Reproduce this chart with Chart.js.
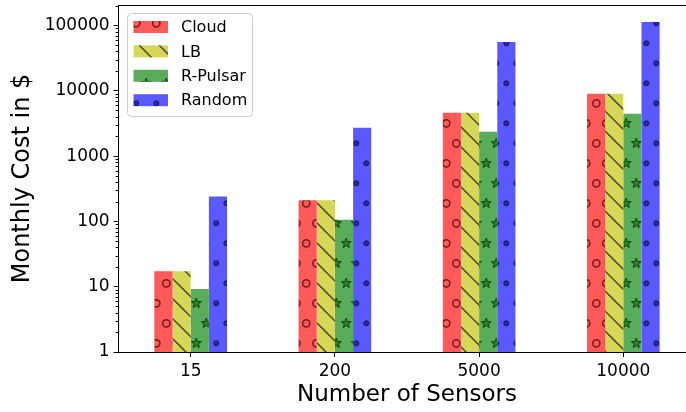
<!DOCTYPE html>
<html>
<head>
<meta charset="utf-8">
<script src="https://cdn.jsdelivr.net/npm/chart.js@4.4.0/dist/chart.umd.min.js"></script>
<style>
  html, body { margin: 0; padding: 0; overflow: hidden; background: #fff; }
</style>
</head>
<body>
<canvas id="bar-chart" width="700" height="412"></canvas>
<script>
var categories = ["15", "200", "5000", "10000"]; // number of sensors
var seriesNames = ["Cloud", "LB", "R-Pulsar", "Random"];
var cloudCost = [17.3, 210, 4600, 9000];
var lbCost = [17.3, 210, 4600, 9000];
var pulsarCost = [9.2, 106, 2370, 4450];
var randomCost = [240, 2720, 56000, 113000];
var yTicks = [1, 10, 100, 1000, 10000, 100000];

var font = "DejaVu Sans";

// hatch tiles, anchored on the canvas like matplotlib anchors on the figure
function makePattern(bg, drawMark) {
    var c = document.createElement("canvas");
    c.width = 20;
    c.height = 40;
    var g = c.getContext("2d");
    g.fillStyle = bg;
    g.fillRect(0, 0, 20, 40);
    var spots = [[6.3, 3.3], [16.3, 23.3]];
    spots.forEach(function (s) {
        for (var dx = -20; dx <= 20; dx += 20) {
            for (var dy = -40; dy <= 40; dy += 40) {
                drawMark(g, s[0] + dx, s[1] + dy);
            }
        }
    });
    return g.createPattern(c, "repeat");
}

function ring(g, x, y) {
    g.beginPath();
    g.arc(x, y, 3.6, 0, Math.PI * 2);
    g.strokeStyle = "rgba(100,20,20,0.9)";
    g.lineWidth = 1.5;
    g.stroke();
}

function star(g, x, y) {
    g.beginPath();
    for (var i = 0; i < 10; i++) {
        var r = i % 2 === 0 ? 5.2 : 2.2;
        var a = -Math.PI / 2 + i * Math.PI / 5;
        g.lineTo(x + r * Math.cos(a), y + r * Math.sin(a));
    }
    g.closePath();
    g.fillStyle = "#1f8a1f";
    g.fill();
    g.strokeStyle = "rgba(20,50,20,0.9)";
    g.lineWidth = 1;
    g.stroke();
}

function dot(g, x, y) {
    g.beginPath();
    g.arc(x, y, 2.5, 0, Math.PI * 2);
    g.fillStyle = "#2a2aa8";
    g.fill();
    g.strokeStyle = "#151560";
    g.lineWidth = 1;
    g.stroke();
}

function lines(g, x, y) {
    // only once per tile (called 18 times, draw on the centre call)
    if (x !== 6.3 || y !== 3.3) return;
    g.strokeStyle = "rgba(40,40,10,0.85)";
    g.lineWidth = 1.3;
    for (var k = -4; k <= 2; k++) {
        var x0 = 14 + 20 * k;
        g.beginPath();
        g.moveTo(x0 - 2, -2);
        g.lineTo(x0 + 42, 42);
        g.stroke();
    }
}

var fills = [
    makePattern("rgb(255,89,89)", ring),
    makePattern("rgb(214,214,89)", lines),
    makePattern("rgb(89,172,89)", star),
    makePattern("rgb(89,89,255)", dot)
];

var minorTicks = {
    id: "minorTicks",
    afterDraw: function (chart) {
        var ctx = chart.ctx, y = chart.scales.y, a = chart.chartArea;
        ctx.save();
        ctx.strokeStyle = "#000";
        ctx.lineWidth = 1;
        for (var k = 0; k < 6; k++) {
            for (var m = 2; m <= 9; m++) {
                var v = m * Math.pow(10, k);
                if (v > y.max) continue;
                var py = Math.round(y.getPixelForValue(v)) + 0.5;
                ctx.beginPath();
                ctx.moveTo(a.left - 3, py);
                ctx.lineTo(a.left, py);
                ctx.stroke();
            }
        }
        // top and right spines
        ctx.beginPath();
        ctx.moveTo(a.left, a.top + 0.5);
        ctx.lineTo(a.right, a.top + 0.5);
        ctx.moveTo(a.right - 0.5, a.top);
        ctx.lineTo(a.right - 0.5, a.bottom);
        ctx.stroke();
        ctx.restore();
    }
};

var boxLegend = {
    id: "boxLegend",
    afterDraw: function (chart) {
        var ctx = chart.ctx;
        var bx = 127, by = 13, bw = 125, bh = 103;
        ctx.save();
        ctx.beginPath();
        ctx.roundRect(bx + 0.5, by + 0.5, bw, bh, 4);
        ctx.fillStyle = "rgba(255,255,255,0.8)";
        ctx.fill();
        ctx.strokeStyle = "#cccccc";
        ctx.lineWidth = 1;
        ctx.stroke();
        ctx.font = "16px '" + font + "'";
        ctx.textBaseline = "middle";
        chart.data.datasets.forEach(function (ds, i) {
            var cy = 27 + i * 24.4;
            ctx.fillStyle = ds.backgroundColor;
            ctx.fillRect(133.5, cy - 6, 34.5, 12);
            ctx.fillStyle = "#000";
            ctx.fillText(ds.label, 181, cy + 1);
        });
        ctx.restore();
    }
};

var seriesValues = [cloudCost, lbCost, pulsarCost, randomCost];

function noEdgePadding(scale) {
    scale.paddingTop = 0;
    scale.paddingBottom = 0;
    scale.paddingLeft = 0;
    scale.paddingRight = 0;
}

var config = {
    type: "bar",
    data: {
        labels: categories,
        datasets: seriesNames.map(function (name, i) {
            return {
                label: name,
                data: seriesValues[i],
                backgroundColor: fills[i],
                borderWidth: 0,
                categoryPercentage: 0.504,
                barPercentage: 1.0
            };
        })
    },
    options: {
        responsive: false,
        animation: false,
        devicePixelRatio: 1,
        layout: { padding: { top: 5, right: 4.6, left: 0, bottom: 0 } },
        plugins: {
            legend: { display: false },
            tooltip: { enabled: false }
        },
        scales: {
            x: {
                grid: { display: true, drawOnChartArea: false, offset: false, tickLength: 5, tickColor: "#000" },
                border: { color: "#000", width: 1 },
                ticks: { color: "#000", font: { family: font, size: 17 }, padding: 4 },
                title: {
                    display: true,
                    text: "Number of Sensors",
                    color: "#000",
                    font: { family: font, size: 23 },
                    padding: { top: 0, bottom: 3 }
                },
                afterFit: function (scale) {
                    scale.height = 60;
                    noEdgePadding(scale);
                }
            },
            y: {
                type: "logarithmic",
                min: 1,
                max: 206000,
                grid: { display: true, drawOnChartArea: false, tickLength: 5, tickColor: "#000" },
                border: { color: "#000", width: 1 },
                afterBuildTicks: function (scale) {
                    scale.ticks = yTicks.map(function (v) { return { value: v, major: true }; });
                },
                ticks: {
                    autoSkip: false,
                    color: "#000",
                    font: { family: font, size: 17 },
                    padding: 4,
                    callback: function (value) { return String(value); }
                },
                title: {
                    display: true,
                    text: "Monthly Cost in $",
                    color: "#000",
                    font: { family: font, size: 24 },
                    padding: { top: 8, bottom: 0 }
                },
                afterFit: function (scale) {
                    scale.width = 118.6;
                    noEdgePadding(scale);
                }
            }
        }
    },
    plugins: [minorTicks, boxLegend]
};

var barChart = new Chart(document.getElementById("bar-chart"), config);
</script>
</body>
</html>
